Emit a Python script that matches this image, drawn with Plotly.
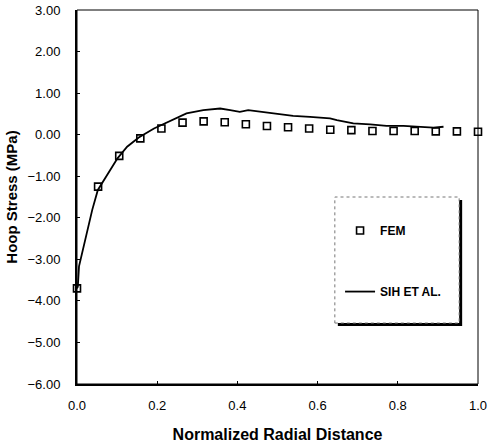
import plotly.graph_objects as go

# FEM results (open squares)
fem_x = [0.0, 0.0526, 0.1053, 0.1579, 0.2105, 0.2632, 0.3158, 0.3684, 0.4211, 0.4737,
         0.5263, 0.5789, 0.6316, 0.6842, 0.7368, 0.7895, 0.8421, 0.8947, 0.9474, 1.0]
fem_y = [-3.70, -1.25, -0.51, -0.09, 0.15, 0.29, 0.32, 0.30, 0.25, 0.21,
         0.18, 0.15, 0.12, 0.11, 0.09, 0.09, 0.09, 0.08, 0.08, 0.07]

# Sih et al. analytic curve
sih_x = [0.0, 0.002, 0.005, 0.013, 0.026, 0.038, 0.052, 0.072, 0.101, 0.125, 0.154,
         0.192, 0.232, 0.273, 0.315, 0.357, 0.382, 0.406, 0.427, 0.456, 0.498,
         0.539, 0.581, 0.631, 0.648, 0.689, 0.731, 0.772, 0.814, 0.855, 0.889, 0.914]
sih_y = [-3.70, -3.66, -3.17, -2.85, -2.29, -1.81, -1.33, -1.01, -0.57, -0.29, -0.07,
         0.15, 0.33, 0.51, 0.59, 0.63, 0.59, 0.55, 0.59, 0.55, 0.51,
         0.45, 0.43, 0.39, 0.35, 0.27, 0.25, 0.21, 0.21, 0.19, 0.17, 0.19]

x_ticks = [0.0, 0.2, 0.4, 0.6, 0.8, 1.0]
y_ticks = [3, 2, 1, 0, -1, -2, -3, -4, -5, -6]

FONT = "Liberation Sans, Arial, sans-serif"

fig = go.Figure()
fig.add_trace(go.Scatter(
    x=fem_x, y=fem_y, mode="markers", name="<b>FEM</b>",
    legendgroup="fem",
    marker=dict(symbol="square-open", size=7, color="black", line=dict(width=1.6, color="black")),
    cliponaxis=False,
))
fig.add_trace(go.Scatter(
    x=sih_x, y=sih_y, mode="lines", name="<b>SIH ET AL.</b>",
    legendgroup="sih",
    line=dict(color="black", width=1.8),
    cliponaxis=False,
))

# plot area: left 77, right 478, top 10, bottom 384
dx = 3 / 401
dy = 3 / 374
bx0, bx1, by0, by1 = 0.643, 0.953, 0.163, 0.5

shapes = [
    # thin frame (top / right)
    dict(type="rect", xref="paper", yref="paper", x0=0, x1=1, y0=0, y1=1,
         line=dict(color="black", width=1), layer="above"),
    # legend box shadow
    dict(type="rect", xref="paper", yref="paper", x0=bx0 + dx, x1=bx1 + dx, y0=by0 - dy, y1=by1 - dy,
         fillcolor="black", line=dict(width=0), layer="above"),
    # legend box
    dict(type="rect", xref="paper", yref="paper", x0=bx0, x1=bx1, y0=by0, y1=by1,
         fillcolor="white", line=dict(color="#777777", width=1, dash="dot"), layer="above"),
]

fig.update_layout(
    width=488, height=444,
    margin=dict(l=77, r=10, t=10, b=60, autoexpand=False),
    paper_bgcolor="white", plot_bgcolor="white",
    font=dict(family=FONT, color="black", size=13),
    shapes=shapes,
    showlegend=True,
    legend=dict(
        x=0.656, xanchor="left", y=0.449, yanchor="top",
        bgcolor="rgba(0,0,0,0)", borderwidth=0,
        font=dict(family=FONT, size=12, color="black"),
        tracegroupgap=42, itemwidth=30,
    ),
    xaxis=dict(
        range=[0, 1], tickvals=x_ticks, tickformat=".1f",
        showgrid=False, zeroline=False, automargin=False,
        showline=True, linewidth=2, linecolor="black",
        ticks="inside", ticklen=3, tickcolor="black",
        ticklabelstandoff=8,
        tickfont=dict(size=13),
        title=dict(text="<b>Normalized Radial Distance</b>", font=dict(size=16), standoff=17),
    ),
    yaxis=dict(
        range=[-6, 3], tickvals=y_ticks, tickformat=".2f",
        showgrid=False, zeroline=False, automargin=False,
        showline=True, linewidth=2, linecolor="black",
        ticks="inside", ticklen=3, tickcolor="black",
        ticklabelstandoff=12,
        tickfont=dict(size=13),
        title=dict(text="<b>Hoop Stress (MPa)</b>", font=dict(size=15), standoff=6),
    ),
)

fig.write_html(
    "out.html",
    config={"displayModeBar": False},
    post_script="document.body.style.margin='0';document.body.style.overflow='hidden';",
)
